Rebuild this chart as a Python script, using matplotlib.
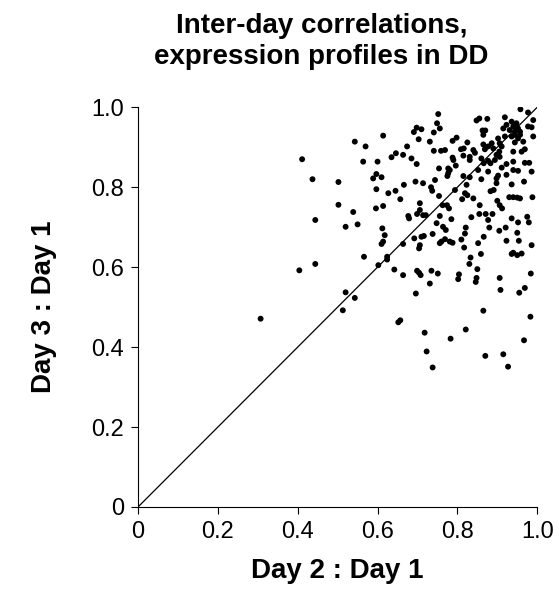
import matplotlib
matplotlib.use("Agg")
import matplotlib.pyplot as plt
from matplotlib.ticker import FuncFormatter

plt.rcParams['font.family'] = ['Liberation Sans', 'DejaVu Sans']

# correlation of day 2 vs day 1 (x) and day 3 vs day 1 (y)
day2_day1 = [
    0.958, 0.977, 0.752, 0.855, 0.875, 0.848, 0.919, 0.990, 0.749, 0.936,
    0.948, 0.698, 0.710, 0.691, 0.741, 0.756, 0.863, 0.870, 0.923, 0.915,
    0.940, 0.952, 0.944, 0.957, 0.931, 0.977, 0.986, 0.865, 0.957, 0.990,
    0.936, 0.944, 0.614, 0.902, 0.919, 0.952, 0.798, 0.788, 0.703, 0.543,
    0.731, 0.825, 0.865, 0.886, 0.906, 0.944, 0.965, 0.877, 0.911, 0.570,
    0.674, 0.816, 0.809, 0.869, 0.890, 0.969, 0.741, 0.759, 0.769, 0.840,
    0.940, 0.961, 0.844, 0.905, 0.646, 0.635, 0.664, 0.815, 0.831, 0.898,
    0.906, 0.860, 0.685, 0.788, 0.790, 0.831, 0.877, 0.894, 0.940, 0.980,
    0.969, 0.564, 0.600, 0.411, 0.698, 0.883, 0.923, 0.866, 0.796, 0.777,
    0.754, 0.852, 0.911, 0.781, 0.877, 0.940, 0.952, 0.986, 0.597, 0.777,
    0.775, 0.815, 0.831, 0.902, 0.923, 0.589, 0.610, 0.744, 0.860, 0.898,
    0.437, 0.502, 0.695, 0.714, 0.967, 0.936, 0.823, 0.666, 0.898, 0.734,
    0.737, 0.794, 0.597, 0.645, 0.627, 0.883, 0.891, 0.819, 0.825, 0.840,
    0.754, 0.930, 0.950, 0.940, 0.957, 0.988, 0.657, 0.812, 0.900, 0.856,
    0.502, 0.614, 0.596, 0.706, 0.763, 0.774, 0.779, 0.906, 0.912, 0.706,
    0.699, 0.539, 0.855, 0.714, 0.721, 0.756, 0.871, 0.888, 0.835, 0.677,
    0.679, 0.975, 0.444, 0.785, 0.877, 0.936, 0.952, 0.979, 0.748, 0.550,
    0.520, 0.880, 0.921, 0.764, 0.771, 0.821, 0.612, 0.905, 0.950, 0.618,
    0.738, 0.710, 0.716, 0.692, 0.769, 0.810, 0.819, 0.866, 0.614, 0.610,
    0.664, 0.706, 0.704, 0.756, 0.760, 0.781, 0.788, 0.817, 0.852, 0.923,
    0.954, 0.986, 0.940, 0.936, 0.950, 0.961, 0.859, 0.566, 0.624, 0.624,
    0.833, 0.444, 0.602, 0.830, 0.404, 0.642, 0.699, 0.704, 0.735, 0.751,
    0.708, 0.664, 0.804, 0.802, 0.850, 0.848, 0.846, 0.984, 0.906, 0.731,
    0.908, 0.969, 0.955, 0.520, 0.696, 0.543, 0.513, 0.865, 0.983, 0.307,
    0.657, 0.652, 0.718, 0.821, 0.783, 0.967, 0.723, 0.870, 0.915, 0.738,
    0.927,
]
day3_day1 = [
    0.995, 0.987, 0.983, 0.972, 0.971, 0.967, 0.975, 0.968, 0.960, 0.964,
    0.960, 0.949, 0.945, 0.938, 0.937, 0.947, 0.942, 0.942, 0.956, 0.947,
    0.952, 0.947, 0.939, 0.939, 0.943, 0.952, 0.950, 0.931, 0.931, 0.927,
    0.927, 0.931, 0.929, 0.922, 0.927, 0.922, 0.924, 0.916, 0.920, 0.914,
    0.914, 0.912, 0.907, 0.910, 0.910, 0.912, 0.914, 0.902, 0.902, 0.902,
    0.902, 0.897, 0.895, 0.895, 0.897, 0.895, 0.891, 0.891, 0.893, 0.893,
    0.889, 0.889, 0.886, 0.889, 0.885, 0.875, 0.881, 0.879, 0.876, 0.881,
    0.876, 0.872, 0.872, 0.874, 0.868, 0.868, 0.866, 0.868, 0.864, 0.861,
    0.861, 0.864, 0.864, 0.870, 0.858, 0.860, 0.858, 0.860, 0.854, 0.847,
    0.847, 0.843, 0.849, 0.843, 0.839, 0.843, 0.841, 0.839, 0.833, 0.835,
    0.828, 0.828, 0.825, 0.829, 0.831, 0.822, 0.825, 0.818, 0.820, 0.822,
    0.820, 0.813, 0.814, 0.810, 0.814, 0.807, 0.806, 0.806, 0.810, 0.800,
    0.791, 0.793, 0.795, 0.791, 0.785, 0.790, 0.793, 0.785, 0.780, 0.772,
    0.778, 0.775, 0.774, 0.775, 0.772, 0.775, 0.770, 0.770, 0.766, 0.755,
    0.756, 0.753, 0.747, 0.760, 0.755, 0.755, 0.747, 0.755, 0.747, 0.743,
    0.733, 0.738, 0.733, 0.730, 0.730, 0.728, 0.733, 0.733, 0.725, 0.728,
    0.722, 0.726, 0.718, 0.720, 0.718, 0.722, 0.712, 0.712, 0.710, 0.707,
    0.701, 0.699, 0.699, 0.701, 0.693, 0.699, 0.697, 0.691, 0.686, 0.680,
    0.683, 0.676, 0.678, 0.672, 0.670, 0.669, 0.684, 0.676, 0.664, 0.658,
    0.658, 0.655, 0.647, 0.660, 0.664, 0.664, 0.661, 0.649, 0.660, 0.666,
    0.666, 0.655, 0.636, 0.633, 0.630, 0.634, 0.633, 0.626, 0.626, 0.619,
    0.624, 0.608, 0.605, 0.608, 0.592, 0.594, 0.591, 0.586, 0.591, 0.584,
    0.580, 0.580, 0.582, 0.570, 0.595, 0.573, 0.563, 0.584, 0.573, 0.559,
    0.543, 0.548, 0.536, 0.537, 0.534, 0.523, 0.492, 0.491, 0.476, 0.471,
    0.467, 0.462, 0.436, 0.444, 0.421, 0.417, 0.389, 0.378, 0.382, 0.349,
    0.351,
]

ticks = [0, 0.2, 0.4, 0.6, 0.8, 1.0]


def fmt(v, pos):
    return "0" if v == 0 else "%.1f" % v


fig = plt.figure(figsize=(5.59, 6.13), dpi=100)
ax = fig.add_axes([0.247, 0.173, 0.714, 0.652])

ax.plot([0, 1], [0, 1], color='k', lw=0.9, zorder=1)
ax.scatter(day2_day1, day3_day1, s=18, color='k', edgecolors='none', zorder=2)

ax.set_xlim(0, 1)
ax.set_ylim(0, 1)
ax.set_xticks(ticks)
ax.set_yticks(ticks)
ax.xaxis.set_major_formatter(FuncFormatter(fmt))
ax.yaxis.set_major_formatter(FuncFormatter(fmt))
ax.tick_params(direction='out', length=5, width=0.8, labelsize=17, pad=5)
ax.spines['top'].set_visible(False)
ax.spines['right'].set_visible(False)
ax.spines['left'].set_linewidth(0.8)
ax.spines['bottom'].set_linewidth(0.8)

ax.set_xlabel("Day 2 : Day 1", fontsize=20, fontweight='bold', labelpad=11)
ax.set_ylabel("Day 3 : Day 1", fontsize=20, fontweight='bold', labelpad=25)

fig.text(0.575, 0.932, "Inter-day correlations,\nexpression profiles in DD",
         ha='center', va='center', fontsize=20, fontweight='bold',
         linespacing=1.25)

fig.savefig("out.png", dpi=100)
